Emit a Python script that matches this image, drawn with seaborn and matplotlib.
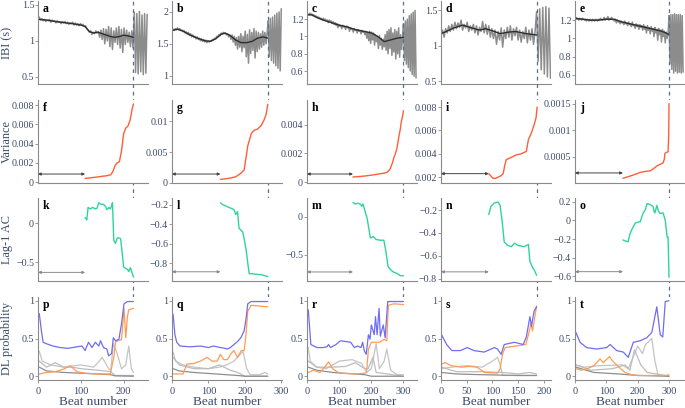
import numpy as np
import matplotlib
matplotlib.use('Agg')
import matplotlib.pyplot as plt
import matplotlib.transforms as mtransforms
from matplotlib.ticker import FuncFormatter
import seaborn as sns

# ---------------- data ----------------
# raw IBI, one value every 3 beats
ibi_a = [1.30, 1.33, 1.29, 1.31, 1.28, 1.30, 1.27, 1.29, 1.28, 1.30, 1.26, 1.29, 1.27, 1.28, 1.25, 1.28,
         1.26, 1.27, 1.24, 1.27, 1.25, 1.27, 1.24, 1.26, 1.23, 1.25, 1.24, 1.26, 1.22, 1.25, 1.22, 1.24,
         1.21, 1.24, 1.22, 1.23, 1.20, 1.21, 1.17, 1.15, 1.12, 1.14, 1.09, 1.12, 1.10, 1.14, 1.11, 1.13,
         1.05, 1.15, 1.02, 1.17, 0.96, 1.16, 1.00, 1.20, 0.92, 1.18, 0.88, 1.14, 0.98, 1.18, 0.95, 1.20,
         0.90, 1.16, 0.84, 1.18, 0.95, 1.15, 0.98, 1.12, 0.92, 1.14, 0.90, 1.40, 0.56, 1.38, 0.54, 1.41,
         0.57, 1.36, 0.53, 1.38, 0.55, 1.37]
ibi_b = [1.70, 1.73, 1.71, 1.74, 1.72, 1.75, 1.72, 1.74, 1.71, 1.72, 1.69, 1.71, 1.67, 1.69, 1.65, 1.68,
         1.63, 1.66, 1.61, 1.64, 1.60, 1.62, 1.58, 1.61, 1.57, 1.59, 1.55, 1.58, 1.54, 1.57, 1.53, 1.56,
         1.52, 1.55, 1.53, 1.55, 1.54, 1.57, 1.56, 1.59, 1.58, 1.62, 1.61, 1.65, 1.63, 1.67, 1.65, 1.68,
         1.66, 1.67, 1.64, 1.66, 1.61, 1.64, 1.57, 1.64, 1.53, 1.62, 1.48, 1.60, 1.42, 1.62, 1.45, 1.66,
         1.38, 1.62, 1.44, 1.70, 1.30, 1.65, 1.20, 1.72, 1.35, 1.68, 1.40, 1.74, 1.28, 1.70, 1.38, 1.68,
         1.42, 1.66, 1.45, 1.70, 1.48, 1.68, 1.50, 1.66, 1.86, 1.30, 1.90, 1.24, 1.92, 1.20, 1.95, 1.16,
         1.98, 1.12, 2.00, 1.08, 2.05]
ibi_c = [1.24, 1.26, 1.25, 1.27, 1.25, 1.26, 1.24, 1.25, 1.23, 1.24,
         1.22, 1.23, 1.21, 1.22, 1.20, 1.21, 1.19, 1.21, 1.19, 1.20,
         1.18, 1.19, 1.16, 1.19, 1.17, 1.18, 1.15, 1.17, 1.14, 1.16,
         1.13, 1.15, 1.10, 1.14, 1.12, 1.13, 1.09, 1.13, 1.11, 1.12,
         1.08, 1.12, 1.10, 1.11, 1.06, 1.10, 1.08, 1.09, 1.05, 1.09,
         1.07, 1.08, 1.04, 1.08, 1.06, 1.07, 1.03, 1.07, 1.05, 1.06,
         1.02, 1.06, 0.98, 1.05, 0.95, 1.06, 0.92, 1.05, 0.96, 1.04,
         0.90, 1.02, 0.94, 1.00, 0.86, 1.01, 0.90, 0.98, 0.85, 0.97,
         0.88, 1.02, 0.84, 1.06, 0.80, 1.08, 0.86, 1.10, 0.78, 1.04,
         0.82, 1.08, 0.74, 1.06, 0.80, 1.10, 0.76, 1.02, 0.85, 0.98,
         1.15, 0.72, 1.18, 0.68, 1.20, 0.64, 1.24, 0.60, 1.26, 0.56,
         1.28, 0.54, 1.30, 0.52]
ibi_d = [1.15, 1.22, 1.12, 1.24, 1.18, 1.28, 1.20, 1.30, 1.22, 1.33,
         1.24, 1.32, 1.26, 1.36, 1.22, 1.30, 1.25, 1.33, 1.20, 1.28,
         1.22, 1.30, 1.18, 1.28, 1.15, 1.26, 1.20, 1.34, 1.18, 1.30,
         1.16, 1.28, 1.12, 1.24, 1.10, 1.22, 1.02, 1.20, 1.08, 1.25,
         0.98, 1.22, 1.10, 1.26, 1.12, 1.28, 1.08, 1.24, 1.14, 1.26,
         1.08, 1.22, 1.05, 1.20, 1.10, 1.26, 1.04, 1.22, 1.08, 1.24,
         1.02, 1.20, 1.48, 0.78, 1.52, 0.66, 1.54, 0.60, 1.55, 0.56,
         1.53, 0.54]
ibi_e = [1.22, 1.23, 1.21, 1.22, 1.20, 1.22, 1.21, 1.20, 1.22, 1.21,
         1.20, 1.21, 1.19, 1.21, 1.20, 1.19, 1.21, 1.20, 1.19, 1.21,
         1.20, 1.19, 1.21, 1.20, 1.19, 1.21, 1.20, 1.22, 1.21, 1.20,
         1.21, 1.23, 1.20, 1.22, 1.21, 1.24, 1.20, 1.22, 1.21, 1.23,
         1.21, 1.20, 1.19, 1.21, 1.17, 1.20, 1.18, 1.19, 1.16, 1.19,
         1.17, 1.18, 1.15, 1.19, 1.16, 1.17, 1.14, 1.18, 1.15, 1.16,
         1.13, 1.18, 1.14, 1.15, 1.11, 1.16, 1.13, 1.15, 1.10, 1.15,
         1.12, 1.14, 1.09, 1.15, 1.10, 1.13, 1.06, 1.14, 1.09, 1.12,
         1.05, 1.13, 1.08, 1.11, 1.02, 1.12, 1.06, 1.10, 0.98, 1.11,
         1.04, 1.09, 0.96, 1.10, 1.02, 1.08, 0.95, 1.07, 1.00, 1.05,
         1.25, 0.72, 1.26, 0.66, 1.26, 0.62, 1.27, 0.64, 1.26, 0.62,
         1.26, 0.63, 1.26, 0.62, 1.25, 0.63]
IBI_STEP = 3

# smoothed IBI trend
trend_a_x = [0, 20, 40, 60, 80, 100, 110, 120, 130, 140, 150, 160, 170, 180, 190, 200, 210, 223]
trend_a = [1.30, 1.29, 1.27, 1.255, 1.24, 1.22, 1.20, 1.13, 1.11, 1.12, 1.10, 1.08, 1.06, 1.05, 1.06, 1.08, 1.07, 1.05]
trend_b_x = [0, 15, 30, 50, 70, 90, 105, 120, 135, 145, 160, 175, 190, 205, 220, 235, 250, 263]
trend_b = [1.71, 1.73, 1.70, 1.64, 1.59, 1.55, 1.54, 1.58, 1.65, 1.67, 1.63, 1.56, 1.52, 1.52, 1.54, 1.59, 1.61, 1.59]
trend_c_x = [0, 15, 30, 50, 75, 100, 125, 150, 175, 200, 220, 240, 260, 280, 300]
trend_c = [1.25, 1.25, 1.22, 1.19, 1.16, 1.13, 1.11, 1.08, 1.06, 1.04, 1.00, 0.94, 0.96, 0.98, 0.99]
trend_d_x = [0, 10, 25, 42, 60, 75, 87, 100, 115, 130, 145, 165, 187]
trend_d = [1.17, 1.20, 1.25, 1.29, 1.25, 1.22, 1.24, 1.21, 1.17, 1.19, 1.20, 1.17, 1.15]
trend_e_x = [0, 25, 50, 75, 100, 125, 150, 175, 200, 225, 250, 275, 290, 300]
trend_e = [1.22, 1.21, 1.20, 1.20, 1.21, 1.21, 1.18, 1.16, 1.14, 1.12, 1.10, 1.08, 1.06, 1.04]

# rolling variance
var_f_x = [110, 120, 130, 140, 150, 160, 170, 175, 180, 185, 190, 195, 200, 205, 210, 215, 220, 223]
var_f = [0.00038, 0.00042, 0.00048, 0.00053, 0.0006, 0.00065, 0.00075, 0.0011, 0.0017, 0.0020, 0.0021,
         0.0032, 0.0050, 0.0056, 0.0058, 0.0064, 0.0076, 0.0081]
var_g_x = [133, 145, 160, 175, 190, 198, 203, 208, 213, 218, 225, 235, 245, 253, 258, 263]
var_g = [0.0006, 0.00065, 0.0008, 0.001, 0.0016, 0.0021, 0.0040, 0.0060, 0.0070, 0.0080, 0.0085,
         0.0087, 0.0093, 0.0102, 0.0110, 0.0127]
var_h_x = [143, 160, 180, 200, 220, 240, 250, 258, 265, 270, 275, 280, 285, 290, 293, 297, 300]
var_h = [0.00035, 0.00038, 0.00042, 0.00048, 0.00055, 0.00062, 0.0007, 0.0009, 0.0013, 0.0017, 0.0020,
         0.0024, 0.0031, 0.0037, 0.0042, 0.0046, 0.0050]
var_i_x = [93, 97, 101, 106, 111, 116, 121, 124, 127, 132, 137, 146, 156, 166, 168, 170, 173, 176, 179, 182, 185, 187]
var_i = [0.0023, 0.0021, 0.0019, 0.0019, 0.0020, 0.0021, 0.0023, 0.0030, 0.0035, 0.0036, 0.0037, 0.0039,
         0.0040, 0.0042, 0.0047, 0.0052, 0.0055, 0.0058, 0.0062, 0.0066, 0.0071, 0.0080]
var_j_x = [153, 170, 190, 208, 225, 240, 250, 261, 270, 281, 285, 287, 292, 297, 299, 300]
var_j = [0.00009, 0.00012, 0.00016, 0.0002, 0.00022, 0.00023, 0.00027, 0.00032, 0.00035, 0.00038,
         0.00045, 0.00056, 0.00058, 0.00059, 0.0009, 0.0015]

# lag-1 autocorrelation
ac_k_x = [110, 114, 117, 122, 128, 134, 138, 142, 147, 153, 158, 161, 166, 169, 172, 174, 177, 181, 185,
          189, 193, 197, 200, 205, 209, 212, 216, 220, 223]
ac_k = [0.07, 0.04, 0.20, 0.18, 0.20, 0.18, 0.19, 0.26, 0.24, 0.24, 0.21, 0.17, 0.20, 0.18, 0.22, 0.26,
        -0.22, -0.26, -0.19, -0.19, -0.20, -0.40, -0.56, -0.58, -0.59, -0.62, -0.57, -0.64, -0.69]
ac_l_x = [133, 140, 147, 152, 158, 165, 170, 175, 180, 184, 189, 194, 198, 203, 208, 212, 220, 230, 245, 255, 263]
ac_l = [-0.18, -0.20, -0.21, -0.22, -0.23, -0.24, -0.25, -0.30, -0.27, -0.44, -0.46, -0.48, -0.55, -0.65,
        -0.80, -0.91, -0.91, -0.915, -0.92, -0.93, -0.94]
ac_m_x = [143, 150, 158, 165, 171, 174, 180, 187, 192, 197, 206, 215, 229, 239, 245, 252, 260, 268, 280, 290, 300]
ac_m = [0.19, 0.17, 0.18, 0.17, 0.14, 0.17, 0.08, -0.02, -0.15, -0.28, -0.26, -0.30, -0.31, -0.31, -0.45,
        -0.66, -0.70, -0.73, -0.75, -0.78, -0.78]
ac_n_x = [93, 97, 103, 111, 115, 119, 123, 130, 137, 143, 150, 162, 170, 173, 178, 182, 186]
ac_n = [-0.24, -0.17, -0.14, -0.13, -0.16, -0.30, -0.48, -0.51, -0.52, -0.49, -0.51, -0.52, -0.50, -0.65,
        -0.70, -0.73, -0.77]
ac_o_x = [153, 160, 169, 176, 184, 192, 200, 208, 217, 225, 230, 240, 249, 252, 255, 261, 266, 271, 281,
          288, 294, 297, 300]
ac_o = [-0.21, -0.22, -0.23, -0.14, -0.08, -0.03, -0.02, -0.015, 0.075, 0.12, 0.18, 0.17, 0.15, 0.10, 0.08,
        0.16, 0.10, 0.075, 0.08, 0.0, -0.18, -0.18, -0.61]

# DL probabilities (blue, orange, two light grays, dark gray)
p_blue_x = [3, 8, 12, 20, 35, 52, 70, 91, 103, 110, 118, 126, 134, 142, 146, 153, 161, 165, 172, 176, 181, 189, 195, 201, 209, 223]
p_blue = [0.83, 0.60, 0.45, 0.43, 0.40, 0.38, 0.37, 0.39, 0.40, 0.34, 0.45, 0.38, 0.45, 0.40, 0.47, 0.38,
          0.36, 0.27, 0.30, 0.51, 0.47, 0.49, 0.69, 0.96, 0.99, 0.99]
p_orange_x = [3, 20, 40, 52, 62, 75, 85, 91, 110, 140, 169, 177, 181, 189, 195, 201, 205, 209, 212, 223]
p_orange = [0.03, 0.05, 0.06, 0.08, 0.10, 0.14, 0.09, 0.06, 0.04, 0.03, 0.03, 0.25, 0.45, 0.48, 0.48, 0.90,
            0.51, 0.79, 0.88, 0.90]
p_gray1_x = [3, 10, 30, 60, 100, 130, 140, 150, 165, 170, 176, 185, 195, 205, 212, 218, 223]
p_gray1 = [0.33, 0.20, 0.15, 0.12, 0.15, 0.12, 0.18, 0.25, 0.10, 0.08, 0.43, 0.30, 0.10, 0.15, 0.40, 0.10, 0.05]
p_gray2_x = [3, 20, 40, 60, 80, 100, 140, 170, 180, 223]
p_gray2 = [0.20, 0.12, 0.18, 0.12, 0.12, 0.10, 0.08, 0.06, 0.01, 0.01]
p_dark_x = [3, 20, 60, 100, 140, 170, 180, 223]
p_dark = [0.12, 0.07, 0.05, 0.04, 0.03, 0.02, 0.005, 0.0]

q_blue_x = [3, 8, 13, 22, 50, 78, 100, 114, 133, 145, 152, 160, 170, 180, 189, 198, 203, 208, 217, 263]
q_blue = [0.82, 0.55, 0.45, 0.40, 0.39, 0.40, 0.38, 0.40, 0.38, 0.37, 0.36, 0.38, 0.42, 0.46, 0.51, 0.60,
          0.75, 0.96, 0.99, 0.99]
q_orange_x = [3, 30, 41, 60, 78, 96, 110, 124, 133, 142, 152, 162, 170, 180, 190, 198, 203, 208, 217, 263]
q_orange = [0.03, 0.03, 0.16, 0.17, 0.20, 0.25, 0.20, 0.20, 0.29, 0.22, 0.22, 0.30, 0.34, 0.25, 0.34, 0.34,
            0.55, 0.86, 0.94, 0.92]
q_gray1_x = [3, 10, 30, 60, 100, 130, 150, 170, 180, 195, 205, 215, 240, 255, 263]
q_gray1 = [0.32, 0.20, 0.15, 0.12, 0.10, 0.12, 0.15, 0.20, 0.25, 0.33, 0.10, 0.02, 0.02, 0.05, 0.03]
q_gray2_x = [3, 20, 60, 100, 130, 160, 180, 200, 263]
q_gray2 = [0.25, 0.15, 0.10, 0.10, 0.15, 0.08, 0.05, 0.0, 0.0]
q_dark_x = [3, 20, 60, 120, 180, 200, 263]
q_dark = [0.10, 0.07, 0.05, 0.03, 0.01, 0.0, 0.0]

r_blue_x = [4, 12, 31, 50, 62, 67, 73, 90, 104, 120, 136, 147, 157, 168, 173, 178, 184, 191, 196, 200, 209,
            213, 218, 224, 228, 237, 243, 251, 300]
r_blue = [0.88, 0.42, 0.38, 0.38, 0.39, 0.42, 0.38, 0.42, 0.47, 0.46, 0.45, 0.38, 0.40, 0.38, 0.45, 0.34,
          0.29, 0.55, 0.49, 0.68, 0.55, 0.79, 0.55, 0.90, 0.53, 0.68, 0.51, 0.99, 0.99]
r_orange_x = [4, 20, 40, 55, 67, 80, 100, 150, 180, 185, 191, 200, 225, 240, 248, 253, 270, 300]
r_orange = [0.05, 0.08, 0.05, 0.12, 0.19, 0.10, 0.04, 0.03, 0.04, 0.05, 0.36, 0.45, 0.45, 0.49, 0.47, 0.94, 0.96, 0.95]
r_gray1_x = [4, 10, 30, 60, 100, 140, 170, 185, 200, 215, 225, 240, 248, 260, 280, 300]
r_gray1 = [0.38, 0.20, 0.12, 0.10, 0.20, 0.22, 0.17, 0.05, 0.10, 0.43, 0.10, 0.20, 0.36, 0.08, 0.02, 0.02]
r_gray2_x = [4, 30, 80, 120, 150, 180, 190, 205, 215, 300]
r_gray2 = [0.20, 0.12, 0.12, 0.13, 0.18, 0.10, 0.10, 0.25, 0.05, 0.0]
r_dark_x = [4, 30, 80, 150, 180, 200, 300]
r_dark = [0.12, 0.08, 0.05, 0.03, 0.02, 0.0, 0.0]

s_blue_x = [1, 11, 21, 38, 51, 64, 84, 104, 110, 117, 123, 143, 160, 166, 173, 176, 181, 186]
s_blue = [0.55, 0.42, 0.34, 0.34, 0.38, 0.34, 0.32, 0.38, 0.36, 0.29, 0.42, 0.45, 0.42, 0.52, 0.79, 0.66, 0.86, 0.92]
s_orange_x = [1, 8, 20, 40, 55, 70, 85, 110, 115, 120, 125, 145, 165, 170, 175, 178, 186]
s_orange = [0.16, 0.18, 0.14, 0.12, 0.13, 0.12, 0.05, 0.04, 0.10, 0.30, 0.38, 0.40, 0.42, 0.55, 0.70, 0.60, 0.93]
s_gray1_x = [1, 20, 50, 80, 100, 110, 115, 120, 186]
s_gray1 = [0.10, 0.12, 0.14, 0.12, 0.20, 0.25, 0.15, 0.01, 0.01]
s_gray2_x = [1, 30, 80, 120, 150, 172, 186]
s_gray2 = [0.12, 0.06, 0.06, 0.05, 0.03, 0.05, 0.03]
s_dark_x = [1, 30, 80, 150, 186]
s_dark = [0.05, 0.03, 0.02, 0.01, 0.01]

t_blue_x = [3, 16, 37, 69, 101, 112, 133, 154, 170, 186, 208, 229, 245, 261, 272, 280, 288, 300]
t_blue = [0.58, 0.45, 0.38, 0.36, 0.38, 0.42, 0.34, 0.32, 0.25, 0.45, 0.47, 0.51, 0.58, 0.92, 0.55, 0.52, 0.99, 1.0]
t_orange_x = [3, 20, 40, 60, 80, 90, 110, 120, 140, 160, 180, 200, 290, 300]
t_orange = [0.10, 0.08, 0.10, 0.14, 0.23, 0.18, 0.26, 0.20, 0.12, 0.05, 0.02, 0.01, 0.01, 0.02]
t_gray1_x = [3, 30, 80, 150, 170, 190, 200, 215, 225, 245, 255, 265, 300]
t_gray1 = [0.15, 0.12, 0.14, 0.15, 0.10, 0.30, 0.40, 0.30, 0.42, 0.50, 0.20, 0.02, 0.0]
t_gray2_x = [3, 50, 120, 160, 175, 190, 210, 230, 300]
t_gray2 = [0.15, 0.08, 0.10, 0.15, 0.08, 0.35, 0.15, 0.05, 0.0]
t_dark_x = [3, 60, 140, 200, 300]
t_dark = [0.12, 0.05, 0.03, 0.01, 0.0]

transitions = [223, 263, 300, 187, 300]
windows = [110, 133, 143, 93, 153]
letters = ['abcde', 'fghij', 'klmno', 'pqrst']

# ---------------- layout / style ----------------
xlims = [(0, 257), (0, 302), (0, 342), (0, 214), (0, 351)]
xticks = [[0, 100, 200], [0, 100, 200, 300], [0, 100, 200, 300], [0, 50, 100, 150, 200], [0, 100, 200, 300]]
ylims = [
    [(0.40, 1.555), (0.875, 2.17), (0.45, 1.41), (0.46, 1.63), (0.50, 1.41)],
    [(-0.0001, 0.00852), (0.0, 0.0134), (-0.00007, 0.00575), (0.0015, 0.0086), (0.0, 0.00157)],
    [(-0.74, 0.32), (-0.985, -0.13), (-0.85, 0.25), (-0.82, -0.095), (-0.65, 0.24)],
    [(-0.05, 1.05)] * 5,
]
yticks = [
    [[0.5, 1, 1.5], [1, 1.5, 2], [0.6, 0.8, 1, 1.2], [0.5, 1, 1.5], [0.6, 0.8, 1, 1.2]],
    [[0, 0.002, 0.004, 0.006, 0.008], [0, 0.005, 0.01], [0, 0.002, 0.004], [0.002, 0.004, 0.006, 0.008],
     [0.0005, 0.001, 0.0015]],
    [[-0.5, 0], [-0.8, -0.6, -0.4, -0.2], [-0.5, 0], [-0.8, -0.6, -0.4, -0.2], [-0.6, -0.4, -0.2, 0, 0.2]],
    [[0, 0.5, 1]] * 5,
]
arrow_y_var = [0.00083, 0.00145, 0.00056, 0.0023, 0.00019]
arrow_y_ac = [-0.63, -0.89, -0.73, -0.74, -0.55]
ylabels = ['IBI (s)', 'Variance', 'Lag-1 AC', 'DL probability']

ibis = [ibi_a, ibi_b, ibi_c, ibi_d, ibi_e]
trends = [(trend_a_x, trend_a), (trend_b_x, trend_b), (trend_c_x, trend_c), (trend_d_x, trend_d), (trend_e_x, trend_e)]
variances = [(var_f_x, var_f), (var_g_x, var_g), (var_h_x, var_h), (var_i_x, var_i), (var_j_x, var_j)]
acs = [(ac_k_x, ac_k), (ac_l_x, ac_l), (ac_m_x, ac_m), (ac_n_x, ac_n), (ac_o_x, ac_o)]
dl = [
    [(p_gray1_x, p_gray1), (p_gray2_x, p_gray2), (p_dark_x, p_dark), (p_orange_x, p_orange), (p_blue_x, p_blue)],
    [(q_gray1_x, q_gray1), (q_gray2_x, q_gray2), (q_dark_x, q_dark), (q_orange_x, q_orange), (q_blue_x, q_blue)],
    [(r_gray1_x, r_gray1), (r_gray2_x, r_gray2), (r_dark_x, r_dark), (r_orange_x, r_orange), (r_blue_x, r_blue)],
    [(s_gray1_x, s_gray1), (s_gray2_x, s_gray2), (s_dark_x, s_dark), (s_orange_x, s_orange), (s_blue_x, s_blue)],
    [(t_gray1_x, t_gray1), (t_gray2_x, t_gray2), (t_dark_x, t_dark), (t_orange_x, t_orange), (t_blue_x, t_blue)],
]
dl_colors = ['#c4c4c4', '#bdbdbd', '#8e8e8e', '#ff9b55', '#6f6cf5']

sns.set_theme(style='ticks')
plt.rcParams['font.family'] = ['Liberation Serif', 'DejaVu Serif']
plt.rcParams['axes.unicode_minus'] = True

TICK_COL = '#3b4a6b'
SPINE_COL = '#8a8a8a'

W, H = 685, 408
fig = plt.figure(figsize=(W / 100, H / 100), dpi=100)
col_left = [38, 172, 307, 441, 575]
rows = [(1, 84), (100, 183), (198, 281), (297, 380)]


def fmt(v, pos):
    return ('%g' % v).replace('-', '\u2212')


def line(ax, x, y, color, lw=1.0):
    sns.lineplot(x=x, y=y, ax=ax, color=color, lw=lw, estimator=None, sort=False)


for c in range(5):
    axs = []
    for r in range(4):
        top, bot = rows[r]
        ax = fig.add_axes([col_left[c] / W, 1 - bot / H, 110 / W, (bot - top) / H])
        axs.append(ax)

    # IBI
    ax = axs[0]
    beats = np.arange(len(ibis[c])) * IBI_STEP
    line(ax, beats, ibis[c], '#8c8c8c', 1.1)
    line(ax, trends[c][0], trends[c][1], '#2e2e2e', 1.0)

    # variance
    ax = axs[1]
    line(ax, variances[c][0], variances[c][1], '#ff5e3a', 1.0)
    ax.annotate('', xy=(windows[c], arrow_y_var[c]), xytext=(0, arrow_y_var[c]),
                arrowprops=dict(arrowstyle='<|-|>', color='#444444', lw=0.7, mutation_scale=4,
                                shrinkA=0, shrinkB=0))

    # lag-1 AC
    ax = axs[2]
    line(ax, acs[c][0], acs[c][1], '#2fd49a', 1.0)
    ax.annotate('', xy=(windows[c], arrow_y_ac[c]), xytext=(0, arrow_y_ac[c]),
                arrowprops=dict(arrowstyle='<|-|>', color='#8a8a8a', lw=0.7, mutation_scale=4,
                                shrinkA=0, shrinkB=0))

    # DL probabilities
    ax = axs[3]
    for (xs, ys), col in zip(dl[c], dl_colors):
        line(ax, xs, ys, col, 0.9)

    for r, ax in enumerate(axs):
        ax.set_xlim(*xlims[c])
        ax.set_ylim(*ylims[r][c])
        ax.set_yticks(yticks[r][c])
        ax.yaxis.set_major_formatter(FuncFormatter(fmt))
        ax.set_xlabel('')
        ax.set_ylabel('')
        for s in ['top', 'right']:
            ax.spines[s].set_visible(False)
        for s in ['left', 'bottom']:
            ax.spines[s].set_color(SPINE_COL)
            ax.spines[s].set_linewidth(0.8)
        ax.tick_params(axis='both', colors=SPINE_COL, labelcolor=TICK_COL, labelsize=7.2,
                       length=2, width=0.6, pad=0.8)
        if r < 3:
            ax.tick_params(axis='x', length=0, labelbottom=False)
        else:
            ax.set_xticks(xticks[c])
            ax.tick_params(axis='x', length=2.5, pad=2.5, labelsize=7.5)
            ax.set_xlabel('Beat number', fontsize=9.5, color=TICK_COL, labelpad=0)
        ax.text(0.045, 0.9, letters[r][c], transform=ax.transAxes, fontsize=8.5,
                fontweight='bold', va='center', ha='left', color='black')
        if c == 0:
            ax.set_ylabel(ylabels[r], fontsize=8.8, color=TICK_COL)
            ax.yaxis.set_label_coords(-0.228, 0.5)

    # transition marker spanning all rows
    trans = mtransforms.blended_transform_factory(axs[0].transData, fig.transFigure)
    axs[0].plot([transitions[c], transitions[c]], [1 - rows[3][1] / H, 1.0], transform=trans,
                clip_on=False, color='#5d6d8f', lw=0.9, ls=(0, (3, 3)), zorder=5)

fig.savefig('out.png', dpi=100)
